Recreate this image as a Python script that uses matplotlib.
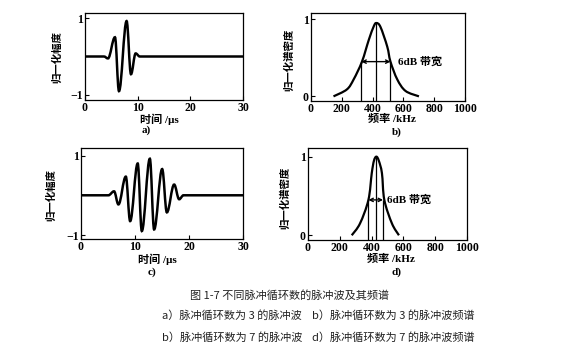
import matplotlib
matplotlib.use('Agg')
import matplotlib.pyplot as plt
from matplotlib.path import Path
from matplotlib.patches import PathPatch

# pulse waveforms: extrema (time us, normalized amplitude)
a_t = [0, 3.6, 4.36, 5.69, 6.45, 7.9, 8.73, 9.62, 10.4, 30]
a_amp = [0, 0, -0.05, 0.50, -0.90, 0.92, -0.46, 0.08, 0, 0]

c_t = [0, 5.07, 6.12, 6.93, 8.3, 9.1, 10.5, 11.26, 12.75, 13.54, 15.03, 15.9, 17.25, 18.18, 18.98, 30]
c_amp = [0, 0, 0.10, -0.23, 0.47, -0.65, 0.80, -0.90, 0.92, -0.86, 0.66, -0.43, 0.27, -0.1, 0, 0]

# spectra (kHz, normalized spectral density)
b_f = [146, 233, 277, 331, 375, 408, 425, 451, 495, 516, 560, 614, 701]
b_amp = [0, 0.09, 0.22, 0.45, 0.73, 0.91, 0.95, 0.90, 0.645, 0.45, 0.22, 0.07, 0]
b_bw = [327, 425, 516]
b_bw_top = [0.45, 0.95, 0.45]

d_f = [275, 327, 380, 401, 415, 430, 445, 465, 480, 528, 572]
d_amp = [0, 0.15, 0.45, 0.79, 0.95, 1.0, 0.95, 0.79, 0.45, 0.15, 0]
d_bw = [380, 425, 472]
d_bw_top = [0.45, 0.99, 0.45]

bw_level = 0.45
bw_text = '6dB 带宽'

time_ticks = [0, 10, 20, 30]
freq_ticks = [0, 200, 400, 600, 800, 1000]

caption = '图 1-7 不同脉冲循环数的脉冲波及其频谱'
sub_left = ['a）脉冲循环数为 3 的脉冲波', 'b）脉冲循环数为 7 的脉冲波']
sub_right = ['b）脉冲循环数为 3 的脉冲波频谱', 'd）脉冲循环数为 7 的脉冲波频谱']

W, H = 575, 363
CJK = ['Noto Sans CJK SC', 'DejaVu Sans']
SER = ['Liberation Serif', 'Noto Sans CJK SC']


def fx(x):
    return x / W


def fy(y):
    return 1 - y / H


def wave_path(t, a, k=0.37):
    verts = [(t[0], a[0])]
    codes = [Path.MOVETO]
    for i in range(len(t) - 1):
        dx = t[i + 1] - t[i]
        verts += [(t[i] + k * dx, a[i]), (t[i + 1] - k * dx, a[i + 1]), (t[i + 1], a[i + 1])]
        codes += [Path.CURVE4] * 3
    return Path(verts, codes)


def smooth_path(x, y):
    p = list(zip(x, y))
    p = [p[0]] + p + [p[-1]]
    verts = [p[1]]
    codes = [Path.MOVETO]
    for i in range(1, len(p) - 2):
        c1 = (p[i][0] + (p[i + 1][0] - p[i - 1][0]) / 6, p[i][1] + (p[i + 1][1] - p[i - 1][1]) / 6)
        c2 = (p[i + 1][0] - (p[i + 2][0] - p[i][0]) / 6, p[i + 1][1] - (p[i + 2][1] - p[i][1]) / 6)
        verts += [c1, c2, p[i + 1]]
        codes += [Path.CURVE4] * 3
    return Path(verts, codes)


def style(ax, xticks, yticks, xlim, ylim):
    ax.set_xlim(*xlim)
    ax.set_ylim(*ylim)
    ax.set_xticks(xticks)
    ax.set_yticks(yticks)
    ax.tick_params(direction='in', length=3, width=0.8, labelsize=8.5, pad=1.5)
    for lab in ax.get_xticklabels() + ax.get_yticklabels():
        lab.set_family(SER)
        lab.set_weight('bold')
    for s in ax.spines.values():
        s.set_linewidth(0.9)


fig = plt.figure(figsize=(W / 100, H / 100), dpi=100)
fig.patch.set_facecolor('white')

ax_a = fig.add_axes([fx(85), fy(100), fx(243) - fx(85), fy(13) - fy(100)])
ax_b = fig.add_axes([fx(311), fy(101), fx(465) - fx(311), fy(13) - fy(101)])
ax_c = fig.add_axes([fx(81), fy(239), fx(243) - fx(81), fy(148) - fy(239)])
ax_d = fig.add_axes([fx(308), fy(240), fx(467) - fx(308), fy(148) - fy(240)])

# waveforms
for ax, t, amp, ylim in [(ax_a, a_t, a_amp, (-1.13, 1.13)), (ax_c, c_t, c_amp, (-1.1, 1.19))]:
    ax.add_patch(PathPatch(wave_path(t, amp), fill=False, lw=1.8, color='black'))
    style(ax, time_ticks, [-1, 1], (0, 30), ylim)
    ax.set_yticklabels(['−1', '1'])
    for lab in ax.get_yticklabels():
        lab.set_family(SER)
        lab.set_weight('bold')

# spectra
for ax, f, amp, bw, bw_top, tx, ylim in [(ax_b, b_f, b_amp, b_bw, b_bw_top, 565, (-0.06, 1.08)),
                                         (ax_d, d_f, d_amp, d_bw, d_bw_top, 496, (-0.06, 1.11))]:
    ax.add_patch(PathPatch(smooth_path(f, amp), fill=False, lw=1.6, color='black'))
    ax.vlines(bw, ylim[0], bw_top, color='black', lw=0.9)
    ax.annotate('', xy=(bw[0], bw_level), xytext=(bw[-1], bw_level),
                arrowprops=dict(arrowstyle='<->', lw=1.0, color='black', mutation_scale=6,
                                shrinkA=0, shrinkB=0))
    ax.text(tx, bw_level, bw_text, va='center', ha='left', fontsize=8,
            family=SER, weight='bold')
    style(ax, freq_ticks, [0, 1], (0, 1000), ylim)

# axis titles and panel letters
lab_kw = dict(ha='center', va='center', family=SER, weight='bold', fontsize=8)
fig.text(fx(159), fy(119), '时间 /μs', **lab_kw)
fig.text(fx(157), fy(259), '时间 /μs', **lab_kw)
fig.text(fx(392), fy(119), '频率 /kHz', **lab_kw)
fig.text(fx(391), fy(259), '频率 /kHz', **lab_kw)
fig.text(fx(146), fy(130), 'a)', **lab_kw)
fig.text(fx(397), fy(132), 'b)', **lab_kw)
fig.text(fx(152), fy(272), 'c)', **lab_kw)
fig.text(fx(397), fy(272), 'd)', **lab_kw)

ylab_kw = dict(ha='center', va='center', rotation=90, family=CJK, weight='bold', fontsize=7.5)
fig.text(fx(57), fy(57), '归一化幅度', **ylab_kw)
fig.text(fx(51), fy(195), '归一化幅度', **ylab_kw)
fig.text(fx(289), fy(60), '归一化谱密度', **ylab_kw)
fig.text(fx(285), fy(198), '归一化谱密度', **ylab_kw)

# caption
cap_kw = dict(va='center', family=CJK, fontsize=8, color='#222222')
fig.text(fx(290), fy(295), caption, ha='center', **cap_kw)
for i, (l, r) in enumerate(zip(sub_left, sub_right)):
    fig.text(fx(162), fy(315 + 23 * i), l, ha='left', **cap_kw)
    fig.text(fx(312), fy(315 + 23 * i), r, ha='left', **cap_kw)

fig.savefig('out.png', dpi=100, facecolor='white')
